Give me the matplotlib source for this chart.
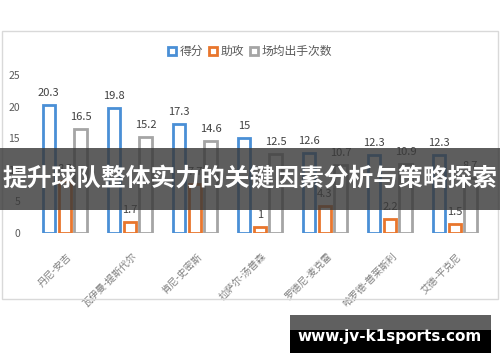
import matplotlib
matplotlib.use("Agg")
import matplotlib.pyplot as plt
from matplotlib.patches import Patch, Rectangle
import numpy as np

plt.rcParams['font.family'] = ['Noto Sans CJK SC', 'DejaVu Sans']

players = ["丹尼-安吉", "瓦伊曼-提斯代尔", "肯尼-史密斯", "拉萨尔-汤普森",
           "罗德尼-麦克雷", "哈罗德-普莱斯利", "艾德-平克尼"]
points = [20.3, 19.8, 17.3, 15, 12.6, 12.3, 12.3]
assists = [8.3, 1.7, 7.7, 1, 4.3, 2.2, 1.5]
shots = [16.5, 15.2, 14.6, 12.5, 10.7, 10.9, 8.7]
series_names = ["得分", "助攻", "场均出手次数"]

colors = ["#4a8fd6", "#e8762d", "#a5a5a5"]
text_gray = "#595959"

fig = plt.figure(figsize=(5, 3.62), dpi=100)
ax = fig.add_axes([0.065, 0.356, 0.91, 0.437])

x = np.arange(len(players))
offsets = [-0.25, 0.0, 0.24]
width = 0.19
for vals, off, col in zip([points, assists, shots], offsets, colors):
    bars = ax.bar(x + off, vals, width, facecolor="white", edgecolor=col, linewidth=2)
    for b, v in zip(bars, vals):
        ax.annotate(f"{v:g}", (b.get_x() + b.get_width() / 2, v),
                    xytext=(0, 5), textcoords="offset points",
                    ha="center", va="bottom", fontsize=8, color="#404040")

ax.set_xlim(-0.5, len(players) - 0.5)
ax.set_ylim(0, 25)
ax.set_yticks([0, 5, 10, 15, 20, 25])
ax.tick_params(axis="y", length=0, labelsize=7.5, labelcolor=text_gray, pad=9)
ax.set_xticks(x + 0.02)
ax.set_xticklabels(players, rotation=45, ha="right", va="top",
                   rotation_mode="anchor", fontsize=7, color="#7f7f7f")
ax.tick_params(axis="x", length=0, pad=13)
for s in ax.spines.values():
    s.set_visible(False)

handles = [Patch(facecolor="white", edgecolor=c, linewidth=2) for c in colors]
fig.legend(handles, series_names, loc="center", bbox_to_anchor=(0.5, 0.857),
           ncol=3, frameon=False, fontsize=8.5, labelcolor=text_gray,
           handlelength=0.7, handleheight=0.7, handletextpad=0.3, columnspacing=0.5)

# chart border (pixel coords)
fig.patches.append(Rectangle((2, 362 - 299), 496, 299 - 31, transform=None,
                             fill=False, edgecolor="#d9d9d9", linewidth=1))

# banner overlay
fig.patches.append(Rectangle((0, 362 - 210), 500, 62, transform=None,
                             facecolor="#3a3a3a", alpha=0.82, edgecolor="none", zorder=5))
fig.text(0.5, (362 - 179) / 362, "提升球队整体实力的关键因素分析与策略探索",
         ha="center", va="center", fontsize=17.8, fontweight="bold", color="white", zorder=6)

# watermark
fig.patches.append(Rectangle((290, 362 - 330), 201, 15, transform=None,
                             facecolor="#606060", edgecolor="none", zorder=5))
fig.patches.append(Rectangle((290, 362 - 353), 201, 23, transform=None,
                             facecolor="black", edgecolor="none", zorder=5))
fig.text(390 / 500, (362 - 337) / 362, "www.jv-k1sports.com", ha="center", va="center",
         fontsize=11, fontweight="bold", color="white", family="DejaVu Sans", zorder=6)

fig.savefig("out.png", dpi=100)
